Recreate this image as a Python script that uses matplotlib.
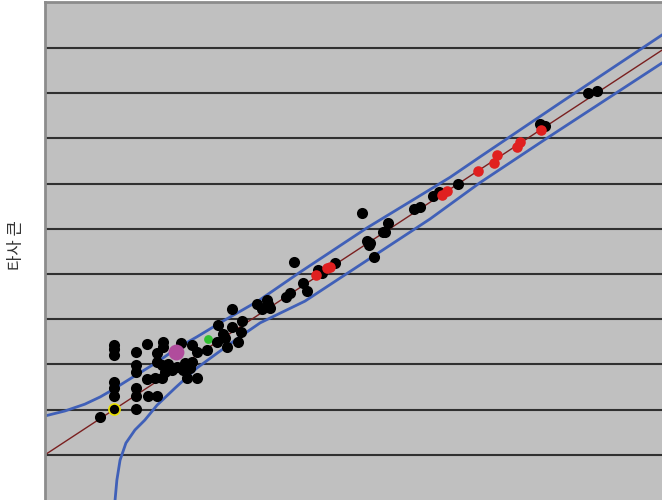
import numpy as np
import matplotlib
matplotlib.use('Agg')
import matplotlib.pyplot as plt

plt.rcParams['font.family'] = ['Noto Sans CJK KR', 'DejaVu Sans']

# black points (other company vs reference)
black_x = [1.22, 1.53, 2.01, 1.53, 1.53, 1.53, 2.01, 2.01, 2.28, 2.48,
           2.26, 2.43, 2.59, 3.14, 3.36, 2.01, 2.01, 2.59, 2.72, 2.92,
           3.10, 3.25, 3.05, 3.21, 2.65, 2.81, 2.48, 2.48, 2.01, 1.53,
           1.53, 1.53, 2.26, 2.61, 2.61, 3.01, 3.25, 3.36, 3.58, 3.81,
           3.98, 4.03, 4.27, 4.34, 4.14, 3.83, 4.36, 4.14, 4.69, 4.80,
           4.93, 4.98, 4.91, 5.33, 5.42, 5.80, 5.71, 5.51, 6.04, 6.13,
           6.42, 7.01, 7.12, 7.17, 7.19, 7.28, 7.48, 7.59, 7.52, 8.16,
           8.30, 8.58, 8.72, 9.14, 10.95, 11.06, 12.01, 12.21, 3.94]
black_y = [1.84, 2.01, 2.01, 2.30, 2.48, 2.61, 2.30, 2.48, 2.30, 2.30,
           2.68, 2.70, 2.70, 2.70, 2.70, 2.83, 2.99, 2.99, 3.01, 2.94,
           3.03, 3.05, 2.88, 2.92, 2.83, 2.88, 3.05, 3.25, 3.27, 3.21,
           3.34, 3.43, 3.45, 3.50, 3.38, 3.47, 3.43, 3.27, 3.32, 3.50,
           3.58, 3.38, 3.50, 3.72, 3.83, 3.87, 3.96, 4.23, 4.34, 4.23,
           4.34, 4.25, 4.42, 4.49, 4.58, 4.62, 4.80, 5.27, 5.09, 5.02,
           5.24, 6.35, 5.73, 5.64, 5.69, 5.38, 5.93, 6.13, 5.93, 6.44,
           6.48, 6.73, 6.81, 6.99, 8.32, 8.27, 9.00, 9.05, 3.67]

red_x = [6.00, 6.24, 6.31, 8.78, 8.89, 9.58, 9.93, 10.00, 10.44, 10.51, 10.97]
red_y = [4.98, 5.13, 5.15, 6.75, 6.84, 7.28, 7.46, 7.63, 7.81, 7.92, 8.19]

pink_x, pink_y = [2.90], [3.27]
green_x, green_y = [3.61], [3.56]
yellow_x, yellow_y = [1.53], [2.01]

# fitted line
intercept = 1.0
slope = 0.656

# prediction band
upper_x = [0, 0.44, 0.88, 1.22, 1.48, 1.88, 2.48, 2.92, 3.36, 3.94,
           4.71, 5.64, 7.12, 8.14, 8.96, 9.62, 11.46, 13.65]
upper_y = [1.86, 1.97, 2.12, 2.28, 2.43, 2.68, 3.05, 3.36, 3.61, 3.96,
           4.40, 5.04, 6.02, 6.64, 7.14, 7.59, 8.83, 10.29]
lower_x = [1.55, 1.59, 1.66, 1.79, 1.99, 2.21, 2.48, 2.88, 3.36, 3.81,
           4.31, 4.76, 5.75, 8.52, 9.62, 11.11, 13.65]
lower_y = [0.0, 0.44, 0.88, 1.26, 1.55, 1.77, 2.10, 2.48, 2.92, 3.25,
           3.61, 3.92, 4.40, 6.22, 7.02, 8.01, 9.67]

fig = plt.figure(figsize=(6.62, 5.0), dpi=100)
ax = fig.add_axes([45 / 662, 0, 617 / 662, 498 / 500])
ax.set_facecolor('#c0c0c0')

ax.set_xlim(0, 13.65)
ax.set_ylim(0, 11.02)
ax.set_yticks(range(1, 11))
ax.set_xticks([])
ax.yaxis.grid(True, color='#303030', linewidth=1.5)
ax.set_axisbelow(True)
ax.tick_params(axis='y', length=0, labelleft=False)

for side in ['right', 'bottom']:
    ax.spines[side].set_visible(False)
for side in ['left', 'top']:
    ax.spines[side].set_color('#8c8c8c')
    ax.spines[side].set_linewidth(2)

xs = np.array([0, 13.65])
ax.plot(xs, intercept + slope * xs, color='#7a2020', linewidth=1, zorder=2)
ax.plot(upper_x, upper_y, color='#4060b8', linewidth=2, zorder=2)
ax.plot(lower_x, lower_y, color='#4060b8', linewidth=2, zorder=2)

ax.scatter(green_x, green_y, s=40, color='#30c030', zorder=3, linewidths=0)
ax.scatter(black_x, black_y, s=64, color='black', zorder=4, linewidths=0)
ax.scatter(yellow_x, yellow_y, s=64, color='black', edgecolors='#e8e000',
           linewidths=1.2, zorder=5)
ax.scatter(red_x, red_y, s=58, color='#e02020', zorder=4, linewidths=0)
ax.scatter(pink_x, pink_y, s=130, color='#b04c9c', zorder=5, linewidths=0)

fig.text(17 / 662, 0.51, '타사 큰', rotation=90, ha='center', va='center',
         fontsize=12, color='#333333')

fig.savefig('out.png', dpi=100)
